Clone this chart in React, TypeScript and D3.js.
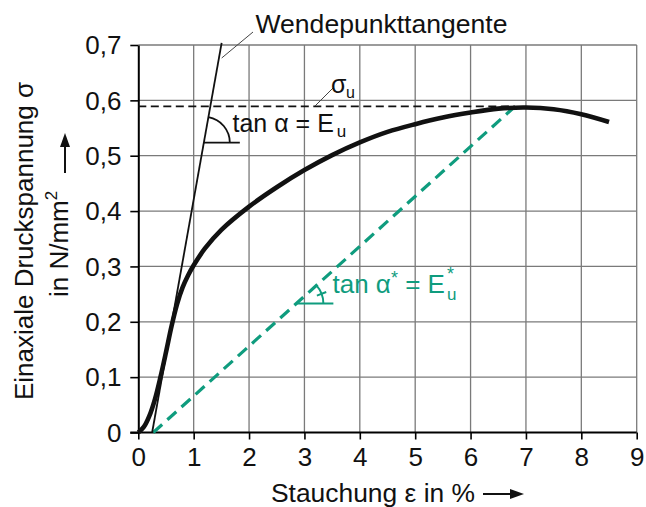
import React, { useEffect, useRef } from 'react';
import * as d3 from 'd3';

const W = 646;
const H = 507;
const margin = { top: 45, right: 9.3, bottom: 74.5, left: 138.3 };

// strain in %, stress in N/mm2
const strain = [0, 0.1, 0.2, 0.3, 0.4, 0.5, 0.6, 0.7, 0.8, 0.9, 1.0, 1.2, 1.5, 2.0, 2.5, 3.0, 3.5, 4.0, 4.5, 5.0, 5.5, 6.0, 6.5, 7.0, 7.5, 8.0, 8.5];
const stress = [0, 0.01, 0.03, 0.06, 0.1, 0.145, 0.192, 0.232, 0.262, 0.284, 0.302, 0.332, 0.366, 0.408, 0.443, 0.474, 0.501, 0.524, 0.543, 0.557, 0.569, 0.578, 0.585, 0.587, 0.584, 0.575, 0.561];

const tangentLine = [[0.25, 0], [1.505, 0.704]];
const secantLine = [[0.27, 0], [6.78, 0.587]];
const sigmaU = 0.589;

const xTicks = [0, 1, 2, 3, 4, 5, 6, 7, 8, 9];
const yTicks = [0, 0.1, 0.2, 0.3, 0.4, 0.5, 0.6, 0.7];
const yTickLabels = ['0', '0,1', '0,2', '0,3', '0,4', '0,5', '0,6', '0,7'];

const green = '#0f9c7e';
const font = '"Liberation Sans", Arial, Helvetica, sans-serif';

const x = d3.scaleLinear().domain([0, 9]).range([margin.left, W - margin.right]);
const y = d3.scaleLinear().domain([0, 0.7]).range([H - margin.bottom, margin.top]);

export default function App() {
  const xAxisRef = useRef(null);
  const yAxisRef = useRef(null);

  useEffect(() => {
    const xAxis = d3.axisBottom(x).tickValues(xTicks).tickSizeInner(7).tickSizeOuter(0).tickPadding(8.5).tickFormat(d3.format('d'));
    const gx = d3.select(xAxisRef.current).call(xAxis);
    gx.select('.domain').attr('stroke-width', 2).attr('d', `M${margin.left - 8},0H${x(9)}`);
    gx.selectAll('line').attr('stroke-width', 1.6);
    gx.selectAll('text').attr('font-size', 26).attr('font-family', font).attr('fill', '#111');

    const yAxis = d3.axisLeft(y).tickValues(yTicks).tickSizeInner(8).tickSizeOuter(0).tickPadding(8.8)
      .tickFormat((d, i) => yTickLabels[i]);
    const gy = d3.select(yAxisRef.current).call(yAxis);
    gy.select('.domain').attr('stroke-width', 2);
    gy.selectAll('line').attr('stroke-width', 1.6);
    gy.selectAll('text').attr('font-size', 26).attr('font-family', font).attr('fill', '#111').attr('dy', '0.34em');
  }, []);

  const curve = d3.line<number>()
    .x((d, i) => x(strain[i]))
    .y((d) => y(d))
    .curve(d3.curveCatmullRom.alpha(0.5))(stress);

  const straight = d3.line<number[]>().x((d) => x(d[0])).y((d) => y(d[1]));

  // angle marks
  const tanCy = 142.7;
  const tanCx = x(tangentLine[0][0]) + (y(0) - tanCy) / (y(0) - y(tangentLine[1][1])) * (x(tangentLine[1][0]) - x(tangentLine[0][0]));
  const tanAng = Math.atan2(y(tangentLine[0][1]) - y(tangentLine[1][1]), x(tangentLine[1][0]) - x(tangentLine[0][0]));
  const r1 = 26;
  const secCy = 303.5;
  const secCx = x(secantLine[0][0]) + (y(0) - secCy) / (y(0) - y(secantLine[1][1])) * (x(secantLine[1][0]) - x(secantLine[0][0]));
  const secAng = Math.atan2(y(secantLine[0][1]) - y(secantLine[1][1]), x(secantLine[1][0]) - x(secantLine[0][0]));
  const r2 = 27;
  const midA = secAng / 2;

  return (
    <svg width={W} height={H} style={{ position: 'absolute', left: 0, top: 0, background: '#fff' }} fontFamily={font}>
      {/* grid */}
      <g stroke="#7a7a7a" strokeWidth={1.3}>
        {xTicks.slice(1).map((t) => (
          <line key={'gx' + t} x1={x(t)} x2={x(t)} y1={y(0)} y2={y(0.7)} />
        ))}
        {yTicks.slice(1).map((t) => (
          <line key={'gy' + t} x1={x(0)} x2={x(9)} y1={y(t)} y2={y(t)} />
        ))}
      </g>

      <g ref={xAxisRef} transform={`translate(0,${y(0)})`} />
      <g ref={yAxisRef} transform={`translate(${x(0)},0)`} />

      {/* sigma_u dashed */}
      <line x1={x(0)} x2={x(6.8)} y1={y(sigmaU)} y2={y(sigmaU)} stroke="#111" strokeWidth={1.8} strokeDasharray="8,4.5" />

      {/* secant modulus */}
      <path d={straight(secantLine)} fill="none" stroke={green} strokeWidth={3.2} strokeDasharray="12,7" />

      {/* tangent */}
      <path d={straight(tangentLine)} fill="none" stroke="#111" strokeWidth={1.8} />

      {/* main curve */}
      <path d={curve} fill="none" stroke="#111" strokeWidth={4.6} />

      {/* tangent angle mark */}
      <line x1={tanCx} x2={tanCx + 36} y1={tanCy} y2={tanCy} stroke="#111" strokeWidth={1.8} />
      <path
        d={`M${tanCx + r1},${tanCy} A${r1},${r1} 0 0 0 ${tanCx + r1 * Math.cos(tanAng)},${tanCy - r1 * Math.sin(tanAng)}`}
        fill="none" stroke="#111" strokeWidth={1.8}
      />

      {/* secant angle mark */}
      <line x1={secCx} x2={secCx + 37} y1={secCy} y2={secCy} stroke={green} strokeWidth={2} />
      <path
        d={`M${secCx + r2},${secCy} A${r2},${r2} 0 0 0 ${secCx + r2 * Math.cos(secAng)},${secCy - r2 * Math.sin(secAng)}`}
        fill="none" stroke={green} strokeWidth={2}
      />
      <line
        x1={secCx + (r2 - 5) * Math.cos(midA)} y1={secCy - (r2 - 5) * Math.sin(midA)}
        x2={secCx + (r2 + 5) * Math.cos(midA)} y2={secCy - (r2 + 5) * Math.sin(midA)}
        stroke={green} strokeWidth={2}
      />

      {/* leaders */}
      <line x1={221.7} y1={58} x2={253} y2={32} stroke="#444" strokeWidth={1} />
      <line x1={315} y1={106} x2={333} y2={88} stroke="#444" strokeWidth={1} />

      {/* annotations */}
      <text x={255.5} y={33} fontSize={26} fill="#111" textLength={252} lengthAdjust="spacingAndGlyphs">Wendepunkttangente</text>

      <text x={331} y={93} fontSize={25} fill="#111">σ</text>
      <text x={346} y={98} fontSize={16} fill="#111">u</text>

      <text x={232.5} y={132} fontSize={25} fill="#111">
        tan α = E<tspan fontSize={17} dx={3} dy={5}>u</tspan>
      </text>

      <text x={332.5} y={293.3} fontSize={26} fill={green}>
        tan α<tspan fontSize={18} dy={-9}>*</tspan>
        <tspan dy={9}> = E</tspan>
        <tspan fontSize={18} dx={2} dy={-13}>*</tspan>
        <tspan fontSize={17} dx={-7} dy={20}>u</tspan>
      </text>

      {/* axis titles */}
      <text x={271} y={501.5} fontSize={26} fill="#111" textLength={204} lengthAdjust="spacingAndGlyphs">Stauchung ε in %</text>
      <line x1={483} x2={512} y1={494} y2={494} stroke="#111" strokeWidth={2} />
      <path d="M524,494 L510,489 L510,499 Z" fill="#111" />

      <text transform="translate(33,241) rotate(-90)" textAnchor="middle" fontSize={26} fill="#111">
        Einaxiale Druckspannung σ
      </text>
      <text transform="translate(68,297) rotate(-90)" fontSize={26} fill="#111">
        in N/mm<tspan fontSize={17} dy={-11}>2</tspan>
      </text>
      <line x1={65} x2={65} y1={173} y2={145} stroke="#111" strokeWidth={2} />
      <path d="M65,133 L60,147 L70,147 Z" fill="#111" />
    </svg>
  );
}
